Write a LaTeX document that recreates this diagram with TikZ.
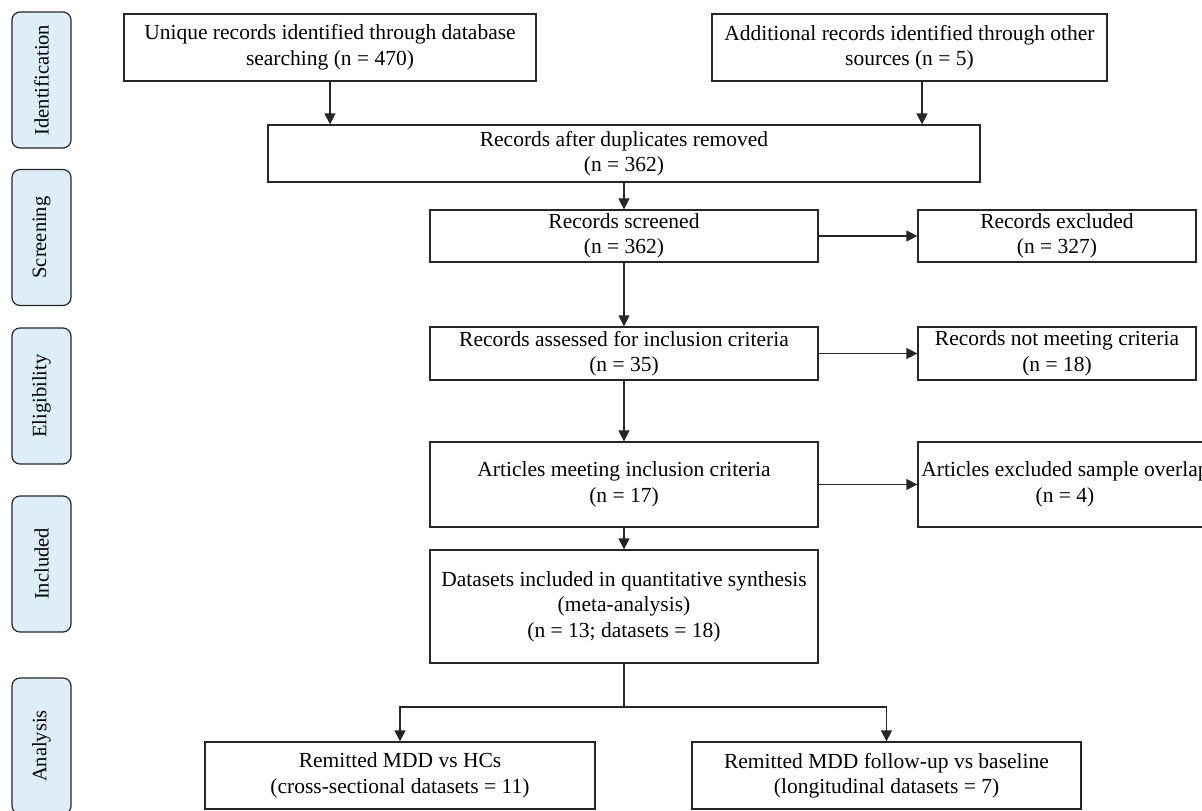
\documentclass[tikz,border=0pt]{standalone}
\usepackage{fontspec}
\setmainfont{Liberation Serif}
\usetikzlibrary{arrows.meta}
\begin{document}
\begin{tikzpicture}[x=1pt,y=-1pt,
  box/.style={draw=black!85,line width=1.3pt,fill=white,align=center,inner sep=2pt,font=\fontsize{21.5}{25.5}\selectfont},
  phase/.style={draw=black!85,line width=1.2pt,fill=phasefill,rounded corners=8pt,rotate=90,minimum width=136pt,minimum height=59pt,inner sep=0pt,font=\fontsize{20.5}{24}\selectfont},
  arr/.style={line width=1.3pt,draw=black!85,-{Triangle[length=11pt,width=11pt]}},
  ln/.style={line width=1.3pt,draw=black!85}]
\definecolor{phasefill}{HTML}{DDEEF9}
\useasboundingbox (0,0) rectangle (1202,811);
\clip (0,0) rectangle (1202,811);
% phases
\node[phase] (p1) at (41.5,80) {Identification};
\node[phase] (p2) at (41.5,237.5) {Screening};
\node[phase] (p3) at (41.5,396) {Eligibility};
\node[phase] (p4) at (41.5,564) {Included};
\node[phase] (p5) at (41.5,746) {Analysis};
% boxes
\node[box,minimum width=412pt,minimum height=67pt] (u) at (330,47.5) {Unique records identified through database\\searching (n = 470)};
\node[box,minimum width=395pt,minimum height=67pt] (a) at (909.5,47.5) {Additional records identified through other\\sources (n = 5)};
\node[box,minimum width=712pt,minimum height=57pt] (d) at (624,153.5) {Records after duplicates removed\\(n = 362)};
\node[box,minimum width=388pt,minimum height=52pt] (s) at (624,236) {Records screened\\(n = 362)};
\node[box,minimum width=278pt,minimum height=52pt] (e1) at (1057,236) {Records excluded\\(n = 327)};
\node[box,minimum width=388pt,minimum height=53pt] (ra) at (624,353.5) {Records assessed for inclusion criteria\\(n = 35)};
\node[box,minimum width=278pt,minimum height=53pt] (e2) at (1057,353.5) {Records not meeting criteria\\(n = 18)};
\node[box,minimum width=388pt,minimum height=85pt] (am) at (624,484.5) {Articles meeting inclusion criteria\\(n = 17)};
\node[box,minimum width=294pt,minimum height=85pt] (e3) at (1065,484.5) {Articles excluded sample overlap\\(n = 4)};
\node[box,minimum width=388pt,minimum height=113pt] (ds) at (624,606.5) {Datasets included in quantitative synthesis\\(meta-analysis)\\(n = 13; datasets = 18)};
\node[box,minimum width=390pt,minimum height=67pt] (r1) at (400,775.5) {Remitted MDD vs HCs\\(cross-sectional datasets = 11)};
\node[box,minimum width=389pt,minimum height=67pt] (r2) at (886.5,775.5) {Remitted MDD follow-up vs baseline\\(longitudinal datasets = 7)};
% connectors
\draw[arr] (u.south) -- (u.south |- d.north);
\draw[arr] ([xshift=12.5pt]a.south) -- ([xshift=12.5pt]a.south |- d.north);
\draw[arr] (d.south -| s.north) -- (s.north);
\draw[arr] (s) -- (e1);
\draw[arr] (s.south) -- (ra.north);
\draw[arr] (ra) -- (e2);
\draw[arr] (ra.south) -- (am.north);
\draw[arr] (am.east) -- (e3.west);
\draw[arr] (am.south) -- (ds.north);
\coordinate (j) at (624,707);
\draw[ln] (ds.south) -- (j);
\draw[arr] (j) -| (r1.north);
\draw[arr] (j) -| (r2.north);
\end{tikzpicture}
\end{document}
